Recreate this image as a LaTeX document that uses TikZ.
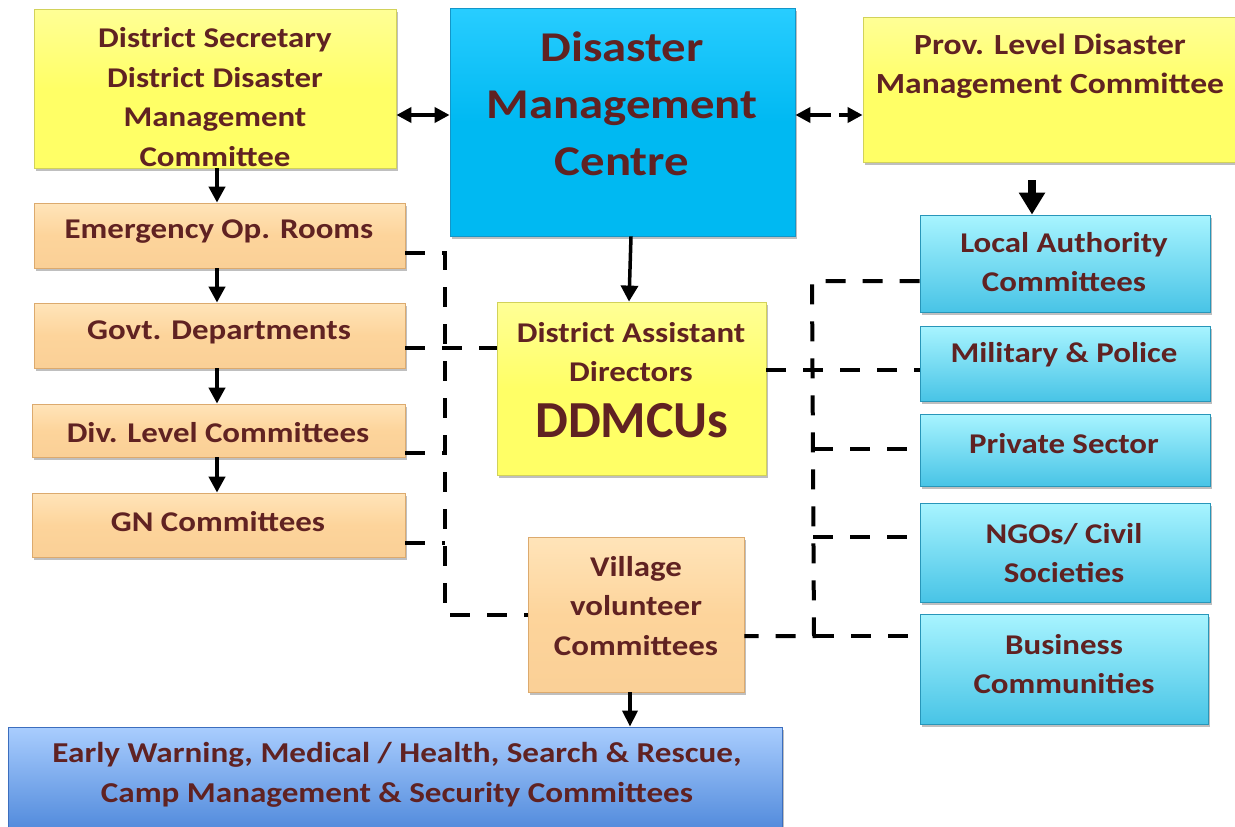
\documentclass[tikz,border=0pt]{standalone}
\usepackage{fontspec}
\setmainfont{Carlito}[FakeStretch=1.15]
\newfontfamily\plainfont{Carlito}
\usetikzlibrary{arrows.meta,fit,shadows}
\definecolor{tc}{RGB}{96,34,34}
\definecolor{yel}{RGB}{255,255,102}
\definecolor{yeltop}{RGB}{255,255,150}
\definecolor{yelbd}{RGB}{210,210,90}
\definecolor{dmc}{RGB}{0,185,242}
\definecolor{dmctop}{RGB}{40,205,255}
\definecolor{dmcbd}{RGB}{20,150,200}
\definecolor{ora}{RGB}{253,212,155}
\definecolor{oratop}{RGB}{255,228,185}
\definecolor{orabd}{RGB}{220,170,110}
\definecolor{cyb}{RGB}{72,196,230}
\definecolor{cytop}{RGB}{168,244,255}
\definecolor{cybd}{RGB}{40,150,185}
\definecolor{blb}{RGB}{77,135,218}
\definecolor{bltop}{RGB}{169,205,254}
\definecolor{blbd}{RGB}{60,110,190}
\tikzset{
  boxbase/.style={inner sep=0pt, line width=0.8pt,
    drop shadow={shadow xshift=2pt, shadow yshift=-3pt, opacity=0.25, fill=black}},
  yelbox/.style={boxbase, draw=yelbd, top color=yeltop, bottom color=yel, middle color=yel},
  dmcbox/.style={boxbase, draw=dmcbd, top color=dmctop, bottom color=dmc, middle color=dmc},
  orabox/.style={boxbase, draw=orabd, top color=oratop, bottom color=ora!95!brown, middle color=ora},
  cybox/.style={boxbase, draw=cybd, top color=cytop, bottom color=cyb},
  blbox/.style={boxbase, draw=blbd, top color=bltop, bottom color=blb},
  txt/.style={text=tc, align=center, inner sep=0pt,
    font=\bfseries\fontsize{28.6}{39.5}\selectfont},
  solidarrow/.style={line width=4pt, -{Triangle[length=16pt,width=16pt]}},
  dasharrow/.style={line width=4pt, dash pattern=on 20pt off 17pt},
}
\begin{document}
\begin{tikzpicture}[x=1pt,y=-1pt]
\useasboundingbox (0,0) rectangle (1235,827);
% boxes
\node[yelbox, fit={(34,9)(396,168)}] (ds) {};
\node[dmcbox, fit={(450,8)(795,236)}] (dmcb) {};
\node[yelbox, fit={(863,17)(1240,162)}] (prov) {};
\node[orabox, fit={(34,203)(405,268)}] (em) {};
\node[orabox, fit={(34,303)(405,368)}] (govt) {};
\node[orabox, fit={(32,404)(405,457)}] (div) {};
\node[orabox, fit={(32,493)(405,557)}] (gn) {};
\node[yelbox, fit={(497,302)(766,475)}] (dad) {};
\node[orabox, fit={(528,537)(744,692)}] (vil) {};
\node[blbox, fit={(8,727)(782,835)}] (bot) {};
\node[cybox, fit={(920,215)(1210,312)}] (la) {};
\node[cybox, fit={(920,326)(1210,401)}] (mil) {};
\node[cybox, fit={(920,414)(1210,486)}] (priv) {};
\node[cybox, fit={(920,503)(1210,602)}] (ngo) {};
\node[cybox, fit={(920,614)(1208,724)}] (bus) {};
% texts
\node[txt] (ds-t) at (215,97) {District Secretary\\District Disaster\\Management\\Committee};
\node[txt, font=\bfseries\fontsize{42.4}{57}\selectfont] (dmc-t) at (622,104) {Disaster\\Management\\Centre};
\node[txt, font=\bfseries\fontsize{29.2}{39.5}\selectfont] (prov-t) at (1050,66) {Prov. Level Disaster\\Management Committee};
\node[txt] (em-t) at (219,232) {Emergency Op. Rooms};
\node[txt] (govt-t) at (219,332) {Govt. Departments};
\node[txt] (div-t) at (218,433) {Div. Level Committees};
\node[txt] (gn-t) at (218,522) {GN Committees};
\node[txt] (dad-t) at (631,352) {District Assistant\\Directors};
\node[txt, font=\plainfont\bfseries\fontsize{52}{54}\selectfont] (dad-t2) at (632,421) {DDMCUs};
\node[txt] (vil-t) at (636,606) {Village\\volunteer\\Committees};
\node[txt, font=\bfseries\fontsize{28.8}{39.5}\selectfont] (bot-t) at (397,775) {Early Warning, Medical / Health, Search \& Rescue,\\Camp Management \& Security Committees};
\node[txt] (la-t) at (1064,262) {Local Authority\\Committees};
\node[txt] (mil-t) at (1064,355) {Military \& Police};
\node[txt] (priv-t) at (1064,444) {Private Sector};
\node[txt] (ngo-t) at (1064,553) {NGOs/ Civil\\Societies};
\node[txt] (bus-t) at (1064,664) {Business\\Communities};
% solid arrows
\draw[solidarrow] (ds.south -| 217,0) -- (em.north -| 217,0);
\draw[solidarrow] (em.south -| 217,0) -- (govt.north -| 217,0);
\draw[solidarrow] (govt.south -| 217,0) -- (div.north -| 217,0);
\draw[solidarrow] (div.south -| 217,0) -- (gn.north -| 217,0);
\draw[line width=3.5pt, -{Triangle[length=16pt,width=17pt]}] (dmcb.south -| 631,0) -- (dad.north -| 629,0);
\draw[line width=3.5pt, -{Triangle[length=16pt,width=15pt]}] (vil.south -| 630,0) -- (bot.north -| 630,0);
\draw[line width=8pt, -{Triangle[length=22pt,width=25pt]}] (1032,180) -- (la.north -| 1032,0);
\draw[line width=4pt, {Triangle[length=15pt,width=15pt]}-{Triangle[length=15pt,width=15pt]}] (ds.east |- 0,115) -- (dmcb.west |- 0,115);
\draw[line width=4pt, dash pattern=on 22pt off 8pt, {Triangle[length=15pt,width=15pt]}-{Triangle[length=15pt,width=15pt]}] (dmcb.east |- 0,115) -- (prov.west |- 0,115);
% left dashed network
\coordinate (lt) at (445,253);
\coordinate (lb) at (445,615);
\draw[dasharrow] (em.east |- lt) -- (lt) -- (lb) -- (vil.west |- lb);
\draw[dasharrow] (govt.east |- 0,348) -- (dad.west |- 0,348);
\draw[dasharrow] (div.east |- 0,453) -- (445,453);
\draw[dasharrow] (gn.east |- 0,543) -- (445,543);
% right dashed network
\coordinate (rt) at (812,281);
\coordinate (rb) at (814,636);
\draw[dasharrow] (la.west |- rt) -- (rt) -- (rb) -- (vil.east |- rb);
\draw[dasharrow] (rb) -- (bus.west |- rb);
\draw[dasharrow] (dad.east |- 0,370) -- (mil.west |- 0,370);
\draw[dasharrow] (813,449) -- (priv.west |- 0,449);
\draw[dasharrow] (813,537) -- (ngo.west |- 0,537);
\end{tikzpicture}
\end{document}
